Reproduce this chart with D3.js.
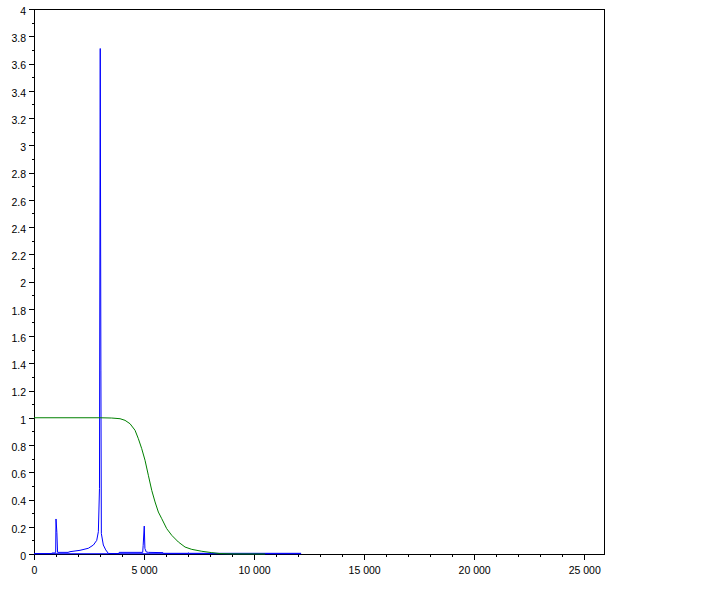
<!DOCTYPE html>
<html>
<head>
<meta charset="utf-8">
<script src="https://cdn.jsdelivr.net/npm/d3@7"></script>
<style>
  body { margin: 0; background: #fff; }
  .axis text { font-family: "Liberation Sans", Arial, sans-serif; font-size: 10.5px; fill: #000; }
  .axis path, .axis line { stroke: #000; shape-rendering: crispEdges; }
</style>
</head>
<body>
<div id="chart"></div>
<script>
// spectrum (blue)
const blueFreq = [0, 800, 810, 960, 985, 1000, 1040, 1070, 1545, 1636, 2090, 2470, 2700, 2850, 2925, 2975, 3010, 3040, 3060, 3150, 3260, 3380, 3860, 3870, 4940, 4960, 5010, 5040, 5100, 5200, 5860, 5870, 7000, 7030, 7060, 12136]
const blueMag = [0.003, 0.003, 0.007, 0.008, 0.01, 0.257, 0.157, 0.012, 0.012, 0.017, 0.027, 0.042, 0.066, 0.10, 0.164, 0.48, 3.71, 1.35, 0.15, 0.066, 0.03, 0.004, 0.003, 0.012, 0.012, 0.064, 0.205, 0.04, 0.015, 0.012, 0.01, 0.005, 0.005, 0.009, 0.005, 0.005]

// second blue trace, close to zero
const lowFreq = [0, 12136]
const lowMag = [0.002, 0.002]

// filter response (green)
const greenFreq = [0, 3000, 3530, 3909, 4136, 4364, 4591, 4742, 4895, 5045, 5195, 5350, 5500, 5650, 5805, 6030, 6260, 6560, 6864, 7168, 7623, 8077, 8455, 9000, 10500]
const greenMag = [1, 1, 0.998, 0.993, 0.981, 0.956, 0.908, 0.846, 0.773, 0.688, 0.578, 0.467, 0.382, 0.308, 0.259, 0.186, 0.137, 0.088, 0.051, 0.034, 0.020, 0.010, 0.003, 0.001, 0]

const xTicks = [0, 5000, 10000, 15000, 20000, 25000]
const yTicks = [0, 0.2, 0.4, 0.6, 0.8, 1, 1.2, 1.4, 1.6, 1.8, 2, 2.2, 2.4, 2.6, 2.8, 3, 3.2, 3.4, 3.6, 3.8, 4]

const width = 701,
height = 604,
plotLeft = 34,
plotRight = 604,
plotTop = 9,
plotBottom = 554

let svg = d3.select('#chart')
.append('svg')
.attr('width', width)
.attr('height', height)
.style('background', '#fff')

const xScale = d3.scaleLinear()
.domain([0, 25900])
.range([plotLeft, plotRight])

const yScale = d3.scaleLinear()
.domain([0, 4])
.range([plotBottom, plotTop])

const fmt = d3.formatLocale({ decimal: '.', thousands: ' ', grouping: [3], currency: ['', ''] }).format(',')

// minor ticks
svg.append('g')
.attr('class', 'axis')
.attr('transform', `translate(0,${plotBottom})`)
.call(d3.axisBottom(xScale).tickValues(d3.range(0, 26000, 1000)).tickSize(3).tickSizeOuter(0).tickFormat(''))

svg.append('g')
.attr('class', 'axis')
.attr('transform', `translate(${plotLeft},0)`)
.call(d3.axisLeft(yScale).tickValues(d3.range(0, 41).map(d => d / 10)).tickSize(2).tickSizeOuter(0).tickFormat(''))

// major axes
svg.append('g')
.attr('class', 'axis')
.attr('transform', `translate(0,${plotBottom})`)
.call(d3.axisBottom(xScale).tickValues(xTicks).tickSize(6).tickPadding(7).tickSizeOuter(0).tickFormat(fmt))

svg.append('g')
.attr('class', 'axis')
.attr('transform', `translate(${plotLeft},0)`)
.call(d3.axisLeft(yScale).tickValues(yTicks).tickSize(5).tickPadding(3).tickSizeOuter(0).tickFormat(d => String(+d.toFixed(1))))
.selectAll('text')
.attr('dy', '0.5em')

// frame
svg.append('path')
.attr('d', `M${plotLeft},${plotTop + 0.5}H${plotRight + 0.5}V${plotBottom}`)
.attr('fill', 'none')
.attr('stroke', '#000')
.style('shape-rendering', 'crispEdges')

const line = d3.line()
.x(d => xScale(d[0]))
.y(d => yScale(d[1]))

svg.append('path')
.datum(d3.zip(lowFreq, lowMag))
.attr('d', line)
.attr('fill', 'none')
.attr('stroke', '#0000ff')
.attr('stroke-width', 1)

svg.append('path')
.datum(d3.zip(blueFreq, blueMag))
.attr('d', line)
.attr('fill', 'none')
.attr('stroke', '#0000ff')
.attr('stroke-width', 1)

svg.append('path')
.datum(d3.zip(greenFreq, greenMag))
.attr('d', line)
.attr('fill', 'none')
.attr('stroke', '#008000')
.attr('stroke-width', 1)
</script>
</body>
</html>
